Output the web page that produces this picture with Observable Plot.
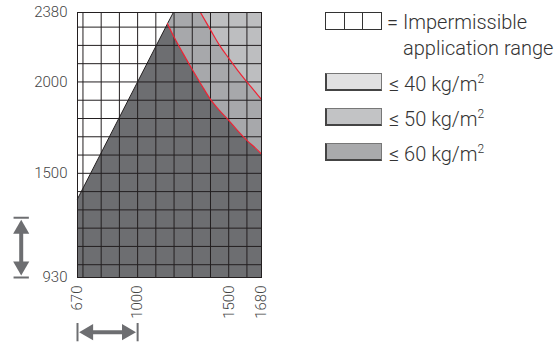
<!DOCTYPE html>
<html>
<head>
<meta charset="utf-8">
<script src="https://cdn.jsdelivr.net/npm/d3@7"></script>
<script src="https://cdn.jsdelivr.net/npm/@observablehq/plot@0.6"></script>
<style>
  html, body { margin: 0; padding: 0; background: #fff; }
  #wrap { position: relative; width: 556px; height: 344px; font-family: Roboto, "Liberation Sans", sans-serif; font-weight: 300; color: #333; }
  #chart svg { display: block; }
  .lg { position: absolute; font-size: 20px; line-height: 20px; white-space: nowrap; }
  .box { position: absolute; box-sizing: border-box; width: 57px; height: 18px; border: 1px solid #777; border-left: 2px solid #444; border-bottom: 2px solid #444; }
  .cells { display: flex; }
  .cells span { flex: 1; border-right: 1px solid #333; height: 100%; box-sizing: border-box; }
  .cells span:last-child { border-right: none; }
  sup { font-size: 12px; vertical-align: 8px; line-height: 0; }
</style>
</head>
<body>
<div id="wrap">
  <div id="chart"></div>
</div>
<script>
// ---- data ----
const xDomain = [670, 1680];
const yDomain = [930, 2380];
const xTicks = [670, 1000, 1500, 1680];
const yTicks = [930, 1500, 2000, 2380];
const gridX = [700, 800, 900, 1000, 1100, 1200, 1300, 1400, 1500, 1600];
const gridY = [1000, 1100, 1200, 1300, 1400, 1500, 1600, 1700, 1800, 1900, 2000, 2100, 2200, 2300];

// impermissible boundary (diagonal)
const diagX = [670, 1164, 1196];
const diagY = [1360, 2319, 2380];
// ≤60 / ≤50 boundary (red)
const curve1X = [1164, 1200, 1250, 1300, 1350, 1400, 1450, 1500, 1550, 1600, 1650, 1680];
const curve1Y = [2319, 2246, 2155, 2068, 1985, 1905, 1843, 1790, 1732, 1680, 1635, 1605];
// ≤50 / ≤40 boundary (red)
const curve2X = [1345, 1400, 1450, 1500, 1550, 1600, 1650, 1680];
const curve2Y = [2380, 2285, 2200, 2130, 2062, 2000, 1940, 1904];

const legendTitle = ["= Impermissible", "application range"];
const legendLabels = ["≤ 40 kg/m", "≤ 50 kg/m", "≤ 60 kg/m"];
const regionColors = { light: "#bdbec0", medium: "#a7a8ab", dark: "#6d6e71" };
const legendColors = ["#e1e1e2", "#c2c3c5", "#a9aaac"];

// decorative dimension arrows (data units)
const arrowV = { x: 361, yBar: [930, 1257], yHead: [992, 1195], halfBar: 42 };
const arrowH = { y: 631, xBar: [670, 1000], xHead: [730, 940], halfBar: 50 };

// ---- build ----
const pts = (xs, ys) => xs.map((x, i) => ({ x, y: ys[i] }));
const c1 = pts(curve1X, curve1Y);
const c2 = pts(curve2X, curve2Y);

const darkPoly = [
  { x: xDomain[0], y: yDomain[0] },
  { x: diagX[0], y: diagY[0] },
  ...c1,
  { x: xDomain[1], y: yDomain[0] }
];
const mediumPoly = [
  { x: diagX[1], y: diagY[1] },
  { x: diagX[2], y: diagY[2] },
  ...c2,
  ...c1.slice().reverse()
];
const lightPoly = [
  ...c2,
  { x: xDomain[1], y: yDomain[1] }
];

const ink = "#231f20";
const arrowCol = "#6d6e71";
const fmt = d => String(d);

const plot = Plot.plot({
  width: 556,
  height: 344,
  marginLeft: 77,
  marginRight: 295,
  marginTop: 12,
  marginBottom: 67,
  style: { fontFamily: "Roboto, 'Liberation Sans', sans-serif", fontSize: "15px", color: "#444", background: "#fff" },
  x: { domain: xDomain },
  y: { domain: yDomain },
  marks: [
    Plot.line(darkPoly, { x: "x", y: "y", fill: regionColors.dark, stroke: "none" }),
    Plot.line(mediumPoly, { x: "x", y: "y", fill: regionColors.medium, stroke: "none" }),
    Plot.line(lightPoly, { x: "x", y: "y", fill: regionColors.light, stroke: "none" }),
    Plot.ruleX(gridX, { stroke: ink, strokeWidth: 1 }),
    Plot.ruleY(gridY, { stroke: ink, strokeWidth: 1 }),
    Plot.line(pts(diagX, diagY), { x: "x", y: "y", stroke: ink, strokeWidth: 1 }),
    Plot.line(c1, { x: "x", y: "y", stroke: "#ee2233", strokeWidth: 1.2, curve: "catmull-rom" }),
    Plot.line(c2, { x: "x", y: "y", stroke: "#ee2233", strokeWidth: 1.2, curve: "catmull-rom" }),
    Plot.frame({ stroke: ink, strokeWidth: 1 }),
    Plot.axisY({ ticks: yTicks, tickFormat: fmt, tickSize: 0, tickPadding: 10, fontSize: 15, fontWeight: 300, label: null }),
    Plot.axisX({ ticks: xTicks, tickFormat: fmt, tickSize: 0, tickPadding: 8, tickRotate: -90, fontSize: 15, fontWeight: 300, label: null }),
    // vertical arrow
    Plot.link(arrowV.yBar, { x1: arrowV.x - arrowV.halfBar, x2: arrowV.x + arrowV.halfBar, y1: d => d, y2: d => d, stroke: arrowCol, strokeWidth: 2 }),
    Plot.link([arrowV], { x1: "x", x2: "x", y1: d => d.yHead[0], y2: d => d.yHead[1], stroke: arrowCol, strokeWidth: 4 }),
    Plot.dot(arrowV.yHead, { x: arrowV.x, y: d => d, symbol: "triangle", r: 6, fill: arrowCol, stroke: "none", rotate: (d, i) => i === 0 ? 180 : 0 }),
    // horizontal arrow
    Plot.link(arrowH.xBar, { y1: arrowH.y - arrowH.halfBar, y2: arrowH.y + arrowH.halfBar, x1: d => d, x2: d => d, stroke: arrowCol, strokeWidth: 2 }),
    Plot.link([arrowH], { y1: "y", y2: "y", x1: d => d.xHead[0], x2: d => d.xHead[1], stroke: arrowCol, strokeWidth: 4 }),
    Plot.dot(arrowH.xHead, { y: arrowH.y, x: d => d, symbol: "triangle", r: 6, fill: arrowCol, stroke: "none", rotate: (d, i) => i === 0 ? -90 : 90 })
  ]
});
document.getElementById("chart").appendChild(plot);

// ---- legend ----
const wrap = document.getElementById("wrap");
const b0 = document.createElement("div");
b0.className = "box cells";
b0.style.cssText = "left:325px;top:12px;border:1px solid #333;";
b0.innerHTML = "<span></span><span></span><span></span>";
wrap.appendChild(b0);
const t0 = document.createElement("div");
t0.className = "lg";
t0.style.cssText = "left:387px;top:12px;";
t0.textContent = legendTitle[0];
wrap.appendChild(t0);
const t0b = document.createElement("div");
t0b.className = "lg";
t0b.style.cssText = "left:403px;top:38px;";
t0b.textContent = legendTitle[1];
wrap.appendChild(t0b);

const rowTops = [73, 108, 143];
legendLabels.forEach((lab, i) => {
  const b = document.createElement("div");
  b.className = "box";
  b.style.left = "325px";
  b.style.top = rowTops[i] + "px";
  b.style.background = legendColors[i];
  wrap.appendChild(b);
  const t = document.createElement("div");
  t.className = "lg";
  t.style.left = "389px";
  t.style.top = (rowTops[i] + 1) + "px";
  t.innerHTML = lab + "<sup>2</sup>";
  wrap.appendChild(t);
});
</script>
</body>
</html>
